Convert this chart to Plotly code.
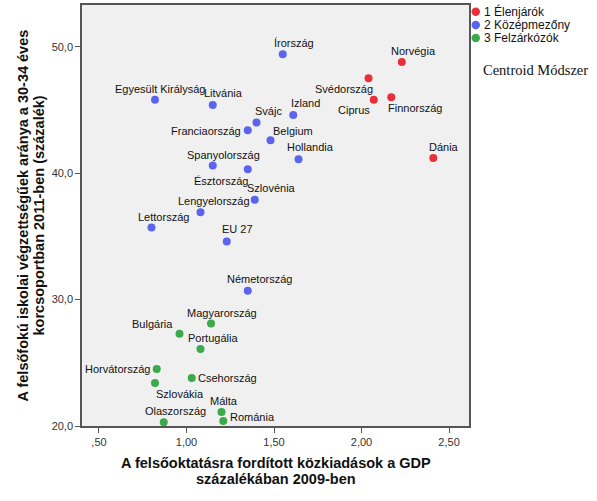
import plotly.graph_objects as go

# ---- data ----
countries = ["Norvégia", "Svédország", "Ciprus", "Finnország", "Dánia",
             "Írország", "Izland", "Svájc", "Franciaország", "Belgium", "Hollandia",
             "Spanyolország", "Észtország", "Szlovénia", "Lengyelország", "Lettország",
             "EU 27", "Egyesült Királyság", "Litvánia", "Németország",
             "Magyarország", "Bulgária", "Portugália", "Horvátország", "Csehország",
             "Szlovákia", "Málta", "Románia", "Olaszország"]
spending = [2.23, 2.04, 2.07, 2.17, 2.41,
            1.55, 1.61, 1.40, 1.35, 1.48, 1.64,
            1.15, 1.35, 1.39, 1.08, 0.80,
            1.23, 0.82, 1.15, 1.35,
            1.14, 0.96, 1.08, 0.83, 1.03,
            0.82, 1.20, 1.21, 0.87]
tertiary = [48.8, 47.5, 45.8, 46.0, 41.2,
            49.4, 44.6, 44.0, 43.4, 42.6, 41.1,
            40.6, 40.3, 37.9, 36.9, 35.7,
            34.6, 45.8, 45.4, 30.7,
            28.1, 27.3, 26.1, 24.5, 23.8,
            23.4, 21.1, 20.4, 20.3]
cluster = [1, 1, 1, 1, 1,
           2, 2, 2, 2, 2, 2,
           2, 2, 2, 2, 2,
           2, 2, 2, 2,
           3, 3, 3, 3, 3,
           3, 3, 3, 3]
cluster_names = {1: "1 Élenjárók", 2: "2 Középmezőny", 3: "3 Felzárkózók"}
x_tickvals = [0.5, 1.0, 1.5, 2.0, 2.5]
x_ticktext = [",50", "1,00", "1,50", "2,00", "2,50"]
y_tickvals = [20, 30, 40, 50]
y_ticktext = ["20,0", "30,0", "40,0", "50,0"]
x_title = ["A felsőoktatásra fordított közkiadások a GDP", "százalékában 2009-ben"]
y_title = ["A felsőfokú iskolai végzettségűek aránya a 30-34 éves",
           "korcsoportban 2011-ben (százalék)"]
note = "Centroid Módszer"

# ---- layout / styles ----
W, H = 597, 501
L, R, T, B = 82, 469, 5, 426  # plot area in pixels
colors = {1: "#e8303a", 2: "#5a64ef", 3: "#3aaa4a"}
label_pos = {
    "Írország": ("center", 11, -11), "Norvégia": ("center", 12, -11),
    "Svédország": ("center", -25, 11), "Ciprus": ("center", -20, 10),
    "Finnország": ("center", 24, 11), "Dánia": ("center", 11, -11),
    "Izland": ("center", 12, -12), "Svájc": ("center", 12, -12),
    "Franciaország": ("right", -5, 1), "Belgium": ("center", 22, -9),
    "Hollandia": ("center", 12, -12), "Spanyolország": ("center", 11, -11),
    "Észtország": ("center", -27, 12), "Szlovénia": ("center", 17, -12),
    "Lengyelország": ("center", 13, -11), "Lettország": ("center", 12, -11),
    "EU 27": ("center", 11, -12), "Egyesült Királyság": ("center", 6, -11),
    "Litvánia": ("center", 11, -12), "Németország": ("center", 12, -12),
    "Magyarország": ("center", 11, -11), "Bulgária": ("right", -4, -10),
    "Portugália": ("center", 12, -11), "Horvátország": ("right", -5, 0),
    "Csehország": ("left", 4, 0), "Szlovákia": ("center", 25, 11),
    "Málta": ("center", 2, -11), "Románia": ("left", 5, -4),
    "Olaszország": ("center", 12, -11),
}


def px(xp):
    return (xp - L) / (R - L)


def py(yp):
    return (B - yp) / (B - T)


fig = go.Figure()
for c in [1, 2, 3]:
    idx = [i for i, k in enumerate(cluster) if k == c]
    fig.add_trace(go.Scatter(
        x=[spending[i] for i in idx], y=[tertiary[i] for i in idx],
        mode="markers", name=cluster_names[c], showlegend=False,
        marker=dict(color=colors[c], size=8, line=dict(width=0)),
    ))

label_font = dict(family="Liberation Sans, Arial", size=11, color="#111")
for name, xv, yv in zip(countries, spending, tertiary):
    anc, dx, dy = label_pos[name]
    fig.add_annotation(x=xv, y=yv, text=name, showarrow=False,
                       xanchor=anc, yanchor="middle", xshift=dx, yshift=-dy,
                       font=label_font)

# legend (drawn manually to match the compact original)
legend_y = [11.7, 25.0, 38.0]
for c, ly in zip([1, 2, 3], legend_y):
    fig.add_shape(type="circle", xref="paper", yref="paper",
                  x0=px(471.5), x1=px(480), y0=py(ly + 4.2), y1=py(ly - 4.2),
                  fillcolor=colors[c], line=dict(width=0))
    fig.add_annotation(xref="paper", yref="paper", x=px(482), y=py(ly),
                       xanchor="left", yanchor="middle", text=cluster_names[c],
                       showarrow=False, font=dict(family="Liberation Sans, Arial", size=12, color="#111"))

fig.add_annotation(xref="paper", yref="paper", x=px(481), y=py(70.5), xanchor="left", yanchor="middle",
                   text=note, showarrow=False,
                   font=dict(family="Liberation Serif, Times New Roman", size=14.5, color="#111"))

title_font = dict(family="Liberation Sans, Arial", size=14.5, color="#111")
for line, yp in zip(x_title, [463, 479]):
    fig.add_annotation(xref="paper", yref="paper", x=0.5, y=py(yp), xanchor="center", yanchor="middle",
                       text="<b>" + line + "</b>", showarrow=False, font=title_font)
for line, xp in zip(y_title, [22, 38]):
    fig.add_annotation(xref="paper", yref="paper", x=px(xp), y=0.5, xanchor="center", yanchor="middle",
                       text="<b>" + line + "</b>", showarrow=False, textangle=-90, font=title_font)

fig.update_layout(
    width=W, height=H,
    margin=dict(l=L, r=W - R, t=T, b=H - B, autoexpand=False),
    paper_bgcolor="white", plot_bgcolor="#f0f0f0",
    font=dict(family="Liberation Sans, Arial", size=11, color="#333"),
    showlegend=False,
)
axis_style = dict(showgrid=False, zeroline=False, showline=True, mirror=True,
                  linecolor="#555", linewidth=1.5, ticks="outside", ticklen=5,
                  tickcolor="#555", automargin=False, tickfont=dict(size=11, color="#333"))
fig.update_xaxes(range=[0.403, 2.614], tickvals=x_tickvals, ticktext=x_ticktext, **axis_style)
fig.update_yaxes(range=[20, 53.3], tickvals=y_tickvals, ticktext=y_ticktext, **axis_style)

fig.write_html("out.html", config={"displayModeBar": False},
               post_script="document.body.style.margin='0';")
